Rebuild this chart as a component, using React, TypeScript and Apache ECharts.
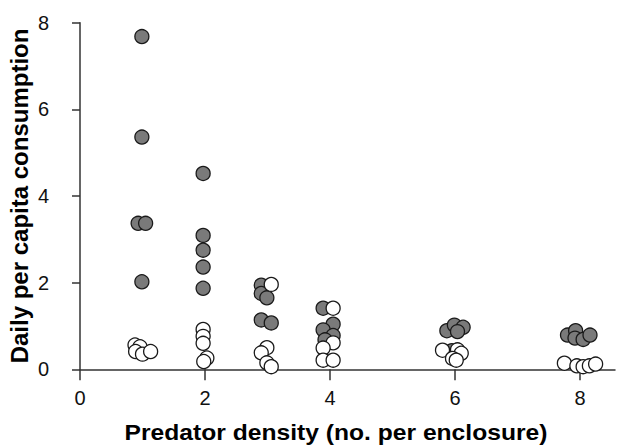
import React, { useEffect, useRef } from "react";
import * as echarts from "echarts";

// Predator density (x, jittered) and daily per capita consumption (y)
const greyX = [0.99, 0.99, 0.93, 1.05, 0.99, 1.97, 1.97, 1.97, 1.97, 1.97, 2.9, 2.9, 2.99, 2.9, 3.06, 3.89, 4.05, 3.89, 4.05, 3.92, 5.87, 5.99, 6.13, 6.04, 5.95, 7.8, 7.93, 7.92, 8.05, 8.16];
const greyY = [7.68, 5.36, 3.37, 3.37, 2.02, 4.52, 3.09, 2.75, 2.36, 1.87, 1.94, 1.75, 1.65, 1.14, 1.07, 1.41, 1.04, 0.91, 0.78, 0.68, 0.89, 1.02, 0.97, 0.87, 0.43, 0.79, 0.89, 0.72, 0.69, 0.79];
const whiteX = [0.88, 0.96, 0.89, 1.0, 1.13, 1.97, 1.97, 1.97, 2.03, 1.98, 3.06, 2.99, 2.9, 2.99, 3.06, 4.05, 4.05, 3.89, 3.89, 4.05, 5.8, 6.04, 6.1, 5.96, 6.02, 7.75, 7.95, 8.05, 8.15, 8.25];
const whiteY = [0.56, 0.52, 0.41, 0.35, 0.41, 0.92, 0.76, 0.6, 0.26, 0.18, 1.96, 0.5, 0.38, 0.15, 0.06, 1.41, 0.61, 0.49, 0.21, 0.21, 0.44, 0.45, 0.37, 0.25, 0.21, 0.14, 0.08, 0.06, 0.08, 0.12];
const xTicks = [0, 2, 4, 6, 8];
const yTicks = [0, 2, 4, 6, 8];
const xTitle = "Predator density (no. per enclosure)";
const yTitle = "Daily per capita consumption";

const FONT = "'Liberation Sans', Arial, Helvetica, sans-serif";

export default function App() {
  const ref = useRef<HTMLDivElement>(null);
  useEffect(() => {
    if (!ref.current) return;
    const chart = echarts.init(ref.current, null, { renderer: "svg" });
    const axisColor = "#333333";
    chart.setOption({
      animation: false,
      backgroundColor: "#ffffff",
      grid: { left: 80, top: 22.7, right: 9, bottom: 76.7, containLabel: false },
      xAxis: {
        type: "value",
        min: 0,
        max: 8.56,
        axisLine: { show: true, onZero: false, lineStyle: { color: axisColor, width: 1.5 } },
        axisTick: { show: true, length: 11, inside: false, customValues: xTicks, lineStyle: { color: axisColor, width: 1.5 } },
        axisLabel: { customValues: xTicks, margin: 19, fontSize: 20, color: "#111", fontFamily: FONT },
        splitLine: { show: false },
      },
      yAxis: {
        type: "value",
        min: 0,
        max: 8,
        interval: 2,
        axisLine: { show: true, onZero: false, lineStyle: { color: axisColor, width: 1.5 } },
        axisTick: { show: true, length: 8, customValues: yTicks, lineStyle: { color: axisColor, width: 1.5 } },
        axisLabel: { customValues: yTicks, margin: 31, fontSize: 20, color: "#111", fontFamily: FONT },
        splitLine: { show: false },
      },
      graphic: [
        {
          type: "text",
          x: 336,
          y: 432,
          scaleX: 1.12,
          style: {
            text: xTitle,
            fontSize: 22,
            fontWeight: "bold",
            fontFamily: FONT,
            fill: "#000",
            align: "center",
            verticalAlign: "middle",
          },
        },
        {
          type: "text",
          x: 19,
          y: 196,
          rotation: Math.PI / 2,
          style: {
            text: yTitle,
            fontSize: 24,
            fontWeight: "bold",
            fontFamily: FONT,
            fill: "#000",
            align: "center",
            verticalAlign: "middle",
          },
        },
      ],
      series: [
        {
          type: "scatter",
          symbol: "circle",
          symbolSize: 14,
          data: greyX.map((x, i) => [x, greyY[i]]),
          itemStyle: { color: "#7a7a7a", borderColor: "#1a1a1a", borderWidth: 1.3, opacity: 1 },
          z: 2,
        },
        {
          type: "scatter",
          symbol: "circle",
          symbolSize: 14,
          data: whiteX.map((x, i) => [x, whiteY[i]]),
          itemStyle: { color: "#ffffff", borderColor: "#1a1a1a", borderWidth: 1.3, opacity: 1 },
          z: 3,
        },
      ],
    });
    return () => chart.dispose();
  }, []);
  return (
    <div
      ref={ref}
      style={{ position: "fixed", left: 0, top: 0, width: 624, height: 446 }}
    />
  );
}
